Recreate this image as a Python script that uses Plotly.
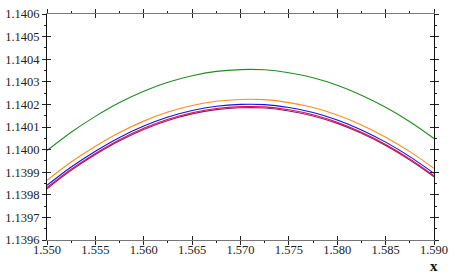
import plotly.graph_objects as go

x_vals = [1.550, 1.5525, 1.555, 1.5575, 1.560, 1.5625, 1.565, 1.5675, 1.570,
          1.5725, 1.575, 1.5775, 1.580, 1.5825, 1.585, 1.5875, 1.590]

green = [1.139996, 1.140077, 1.140147, 1.140208, 1.140258, 1.140298, 1.140327, 1.140346, 1.140354,
         1.140353, 1.140340, 1.140318, 1.140285, 1.140241, 1.140187, 1.140123, 1.140049]
orange = [1.139864, 1.139945, 1.140015, 1.140076, 1.140126, 1.140166, 1.140195, 1.140214, 1.140222,
          1.140221, 1.140208, 1.140186, 1.140153, 1.140109, 1.140055, 1.139991, 1.139917]
blue = [1.139842, 1.139923, 1.139993, 1.140054, 1.140104, 1.140144, 1.140173, 1.140192, 1.140200,
        1.140199, 1.140186, 1.140164, 1.140131, 1.140087, 1.140033, 1.139969, 1.139895]
red = [1.139832, 1.139913, 1.139983, 1.140044, 1.140094, 1.140134, 1.140163, 1.140182, 1.140190,
       1.140189, 1.140176, 1.140154, 1.140121, 1.140077, 1.140023, 1.139959, 1.139885]
purple = [1.139827, 1.139908, 1.139978, 1.140039, 1.140089, 1.140129, 1.140158, 1.140177, 1.140185,
          1.140184, 1.140171, 1.140149, 1.140116, 1.140072, 1.140018, 1.139954, 1.139880]

x_ticks = [1.550, 1.555, 1.560, 1.565, 1.570, 1.575, 1.580, 1.585, 1.590]
x_tick_text = ["1.550", "1.555", "1.560", "1.565", "1.570", "1.575", "1.580", "1.585", "1.590"]
y_ticks = [1.1396, 1.1397, 1.1398, 1.1399, 1.1400, 1.1401, 1.1402, 1.1403, 1.1404, 1.1405, 1.1406]
y_tick_text = ["1.1396", "1.1397", "1.1398", "1.1399", "1.1400", "1.1401",
               "1.1402", "1.1403", "1.1404", "1.1405", "1.1406"]

series = [
    (green, "#1f8f1f"),
    (orange, "#ff8c1a"),
    (purple, "#8b1a8b"),
    (red, "#e8102a"),
    (blue, "#1010ff"),
]

fig = go.Figure()
for ys, col in series:
    fig.add_trace(go.Scatter(x=x_vals, y=ys, mode="lines", line=dict(color=col, width=1.1,
                                                                      shape="spline"),
                             showlegend=False, hoverinfo="skip"))

# invisible trace for the overlay axes
fig.add_trace(go.Scatter(x=[x_vals[0]], y=[green[0]], xaxis="x2", yaxis="y2", mode="markers",
                         marker=dict(opacity=0), showlegend=False, hoverinfo="skip"))

font = dict(family="Liberation Serif", size=12.5, color="#222")
xr = [1.550, 1.590]
yr = [1.1396, 1.1406]

common_x = dict(range=xr, tickmode="array", tickvals=x_ticks, showgrid=False, zeroline=False,
                linecolor="#777", linewidth=1, tickcolor="#222", tickwidth=1, automargin=False,
                minor=dict(dtick=0.0025, ticklen=2, tickcolor="#222", tickwidth=1, showgrid=False))
common_y = dict(range=yr, tickmode="array", tickvals=y_ticks, showgrid=False, zeroline=False,
                linecolor="#111", linewidth=1, tickcolor="#222", tickwidth=1, automargin=False,
                minor=dict(dtick=0.00005, ticklen=2, tickcolor="#222", tickwidth=1, showgrid=False))

fig.update_layout(
    width=455, height=278,
    margin=dict(l=47, r=21, t=14, b=38),
    paper_bgcolor="white", plot_bgcolor="white",
    font=font,
    xaxis=dict(**common_x, ticks="outside", ticklen=4, mirror="ticks", showline=True,
               ticktext=x_tick_text, tickfont=font, ticklabelstandoff=-6),
    yaxis=dict(**common_y, ticks="outside", ticklen=4, mirror="ticks", showline=True,
               ticktext=y_tick_text, tickfont=font, ticklabelstandoff=0),
    xaxis2=dict(**common_x, ticks="inside", ticklen=4, mirror="ticks", showline=False,
                overlaying="x", showticklabels=False),
    yaxis2=dict(**common_y, ticks="inside", ticklen=4, mirror="ticks", showline=False,
                overlaying="y", showticklabels=False),
    annotations=[dict(text="<b>x</b>", x=1.590, y=0, xref="x", yref="paper", xanchor="center",
                      yanchor="top", yshift=-16, showarrow=False,
                      font=dict(family="Liberation Serif", size=15, color="#111"))],
)

fig.write_html("out.html", config={"displayModeBar": False},
               post_script="document.body.style.margin='0';document.body.style.overflow='hidden';")
